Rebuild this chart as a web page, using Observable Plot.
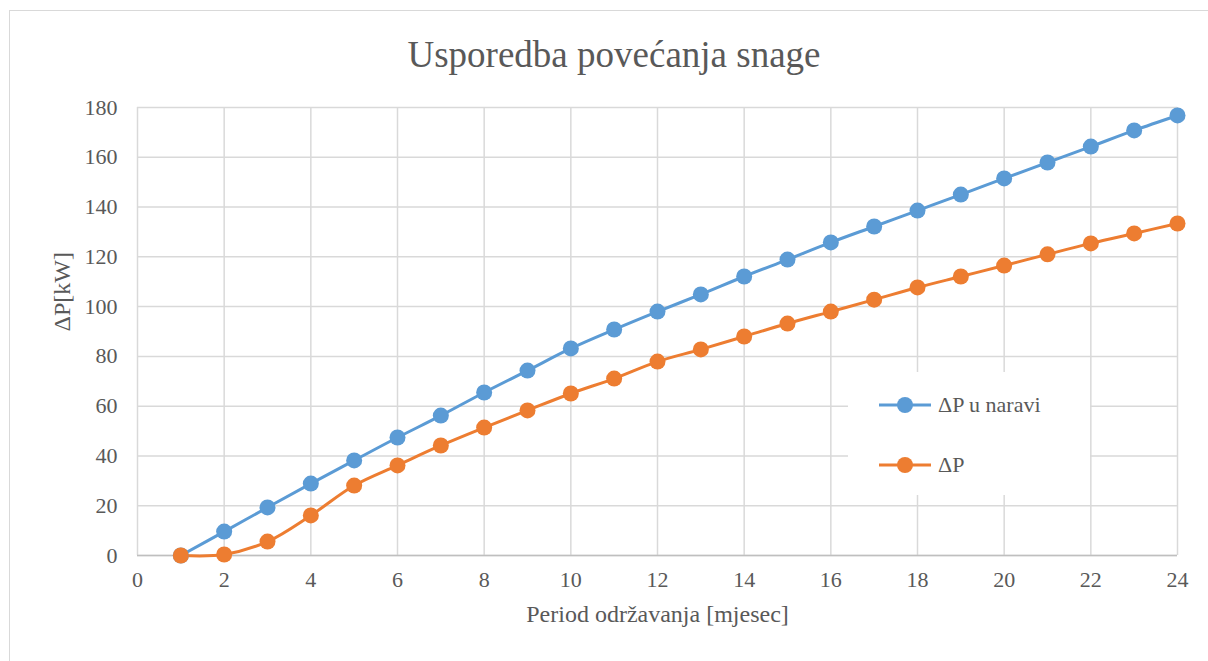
<!DOCTYPE html>
<html><head><meta charset="utf-8">
<script src="https://cdn.jsdelivr.net/npm/d3@7"></script>
<script src="https://cdn.jsdelivr.net/npm/@observablehq/plot@0.6"></script>
<style>
body{margin:0;background:#fff;}
#wrap{position:relative;width:1208px;height:661px;overflow:hidden;font-family:"Liberation Serif","Times New Roman",serif;color:#595959;}
#border{position:absolute;left:9px;top:10px;width:1220px;height:700px;border:1.5px solid #d9d9d9;box-sizing:border-box;}
#title{position:absolute;left:0;top:33px;width:1228px;text-align:center;font-size:37px;}
#legend{position:absolute;left:848px;top:372px;width:242px;height:123px;background:#fff;}
.li{position:absolute;left:30px;font-size:22px;display:flex;align-items:center;}
.li svg{margin-right:6px;}
#chart{position:absolute;left:0;top:0;}
#chart svg, #chart svg text{font-family:"Liberation Serif","Times New Roman",serif !important;}
</style></head>
<body>
<div id="wrap"><div id="border"></div><div id="title">Usporedba povećanja snage</div><div id="chart"></div><div id="legend"></div></div>
<script>
const months = d3.range(1, 25);
const seriesNames = ["ΔP u naravi", "ΔP"];
const seriesColors = ["#5b9bd5", "#ed7d31"];
const dpNaravi = [0, 9.6, 19.3, 28.9, 38.2, 47.4, 56.2, 65.5, 74.3, 83.2, 90.8, 98.0, 104.9, 112.1, 118.9, 125.8, 132.2, 138.6, 145.0, 151.5, 157.9, 164.3, 170.8, 176.8];
const dp = [0, 0.4, 5.6, 16.1, 28.1, 36.2, 44.2, 51.4, 58.3, 65.1, 71.1, 77.9, 82.8, 88.0, 93.2, 98.0, 102.8, 107.7, 112.1, 116.5, 121.0, 125.4, 129.4, 133.4];
const xTicks = d3.range(0, 25, 2);
const yTicks = d3.range(0, 181, 20);

const rows = [];
months.forEach((m, i) => {
  rows.push({x: m, y: dpNaravi[i], s: seriesNames[0]});
  rows.push({x: m, y: dp[i], s: seriesNames[1]});
});

const serif = '"Liberation Serif", "Times New Roman", serif';
const chart = Plot.plot({
  width: 1208, height: 661,
  marginLeft: 137, marginRight: 31, marginTop: 107, marginBottom: 106,
  style: {fontSize: "22px", color: "#595959", background: "transparent"},
  x: {domain: [0, 24], ticks: xTicks, label: null},
  y: {domain: [0, 180], ticks: yTicks, label: null},
  color: {domain: seriesNames, range: seriesColors},
  marks: [
    Plot.gridX(xTicks, {stroke: "#d9d9d9", strokeOpacity: 1, strokeWidth: 1.5}),
    Plot.gridY(yTicks, {stroke: "#d9d9d9", strokeOpacity: 1, strokeWidth: 1.5}),
    Plot.ruleY([0], {stroke: "#bfbfbf", strokeWidth: 1.5}),
    Plot.axisX(xTicks, {tickSize: 0, tickPadding: 16, fontSize: 22, fill: "#595959", fontFamily: serif}),
    Plot.axisY(yTicks, {tickSize: 0, tickPadding: 20, fontSize: 22, fill: "#595959", fontFamily: serif}),
    Plot.text(["Period održavanja [mjesec]"], {frameAnchor: "bottom", dy: 66, fontSize: 24, fill: "#595959", fontFamily: serif}),
    Plot.text(["ΔP[kW]"], {frameAnchor: "left", dx: -75, rotate: -90, fontSize: 24, fill: "#595959", fontFamily: serif}),
    Plot.line(rows, {x: "x", y: "y", z: "s", stroke: "s", strokeWidth: 3, curve: "catmull-rom"}),
    Plot.dot(rows, {x: "x", y: "y", fill: "s", r: 8})
  ]
});
document.getElementById("chart").appendChild(chart);

const legend = document.getElementById("legend");
seriesNames.forEach((n, i) => {
  const d = document.createElement("div");
  d.className = "li";
  d.style.top = (i === 0 ? 20 : 80) + "px";
  d.innerHTML = `<svg width="54" height="26"><line x1="1" x2="53" y1="13" y2="13" stroke="${seriesColors[i]}" stroke-width="3"/><circle cx="27" cy="13" r="8" fill="${seriesColors[i]}"/></svg><span>${n}</span>`;
  legend.appendChild(d);
});
</script>
</body></html>
